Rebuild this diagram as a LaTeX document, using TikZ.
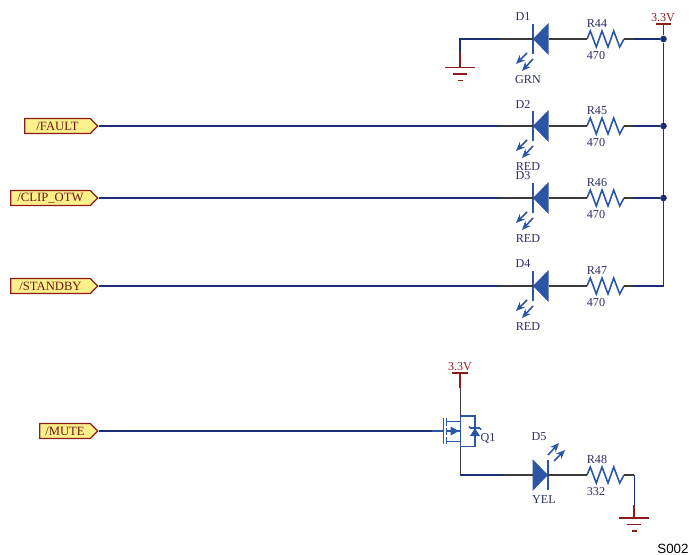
\documentclass[tikz,border=0pt]{standalone}
\usepackage{fontspec}
\setmainfont{Liberation Serif}
\newfontfamily\labelsans{Liberation Sans}
\usetikzlibrary{shapes.symbols}
\definecolor{netblue}{HTML}{1C2F7A}
\definecolor{stubgray}{HTML}{3A3A3A}
\definecolor{partblue}{HTML}{2B55A5}
\definecolor{pwrred}{HTML}{8A1C1C}
\definecolor{tagfill}{HTML}{FDF08A}
\definecolor{txtblue}{HTML}{2B2F66}
\tikzset{
    net/.style={draw=netblue,line width=0.9pt},
    stub/.style={draw=stubgray,line width=0.9pt},
    part/.style={draw=partblue,line width=0.9pt},
    pwr/.style={draw=pwrred,line width=0.95pt},
    lbl/.style={inner sep=0pt,text=txtblue,font=\fontsize{6.9}{8}\selectfont},
    pwrlbl/.style={inner sep=0pt,text=pwrred,font=\fontsize{6.9}{8}\selectfont},
    tag/.style={shape=signal,signal to=east,signal pointer angle=90,draw=pwrred,fill=tagfill,line width=0.8pt,
        inner sep=0pt,minimum height=15*0.2mm,text=pwrred!80!black,font=\fontsize{7.2}{8}\selectfont},
    dot/.style={shape=circle,fill=netblue,inner sep=0pt,minimum size=3.8pt},
    pics/led/.style={code={
        \coordinate (-k) at (0,0);
        \coordinate (-a) at (15.5,0);
        \fill[partblue] (0,0) -- (15.5,-16) -- (15.5,16) -- cycle;
        \draw[part] (0,-15) -- (0,15);
        \draw[part,-{Stealth[length=1.8mm,width=1.5mm]}] (-6,14) -- (-17,25);
        \draw[part,-{Stealth[length=1.8mm,width=1.5mm]}] (0,20) -- (-11,32);
    }},
    pics/res/.style={code={
        \coordinate (-a) at (0,0);
        \coordinate (-b) at (37,0);
        \draw[part] (0,0) -- (3.3,-8) -- (9.3,8) -- (15,-8) -- (21,8) -- (26.7,-8) -- (32.7,8) -- (37,0);
    }},
    pics/earth/.style={code={
        \draw[pwr] (-15,0) -- (15,0);
        \draw[pwr] (-7,6.5) -- (7,6.5);
        \draw[pwr] (-2.5,13) -- (2.5,13);
    }}
}
\usetikzlibrary{arrows.meta}

\begin{document}
\begin{tikzpicture}[x=0.2mm,y=-0.2mm]
    \useasboundingbox (0,0) rectangle (689,555);

    % LED rows
    \foreach \n/\r/\y/\col in {1/44/39/GRN,2/45/126/RED,3/46/198/RED,4/47/286/RED}{
        \pic (d\n) at (533,\y) {led};
        \pic (r\r) at (587,\y) {res};
        \node[lbl] (d\n lbl) at (523,\y-22) {D\n};
        \node[lbl] (d\n col) at (528,\y+41) {\col};
        \node[lbl] (r\r lbl) at (597,\y-15) {R\r};
        \node[lbl] (r\r val) at (596,\y+17) {470};
        \coordinate (w\n) at (500,\y);
        \coordinate (b\n) at (634,\y);
        \draw[stub] (w\n) -- (d\n-k);
        \draw[stub] (d\n-a) -- (r\r-a);
        \draw[stub] (r\r-b) -- (b\n);
    }

    % signal tags
    \node[tag,minimum width=73*0.2mm] (fault) at (57.5,126) {/FAULT};
    \node[tag,minimum width=87*0.2mm] (clip) at (50.5,198) {/CLIP\_OTW};
    \node[tag,minimum width=87*0.2mm] (standby) at (50.5,286) {/STANDBY};
    \node[tag,minimum width=58*0.2mm] (mute) at (65,431) {/MUTE};
    \draw[net] (fault.east) -- (fault.east -| w2);
    \draw[stub] (fault.east -| w2) -- (w2);
    \draw[net] (clip.east) -- (clip.east -| w3);
    \draw[net] (standby.east) -- (standby.east -| w4);

    % right hand bus
    \node[pwrlbl] (vtop) at (663,18) {3.3V};
    \coordinate (vtopbar) at (663.5,24);
    \coordinate (vtopl) at (656,24);
    \coordinate (vtopr) at (671,24);
    \node[dot] (j1) at (663.5,39) {};
    \node[dot] (j2) at (663.5,126) {};
    \node[dot] (j3) at (663.5,198) {};
    \coordinate (j4) at (663.5,286);
    \draw[pwr] (vtopl) -- (vtopr);
    \draw[pwr] (vtopbar) -- (j1);
    \draw[net] (b1) -- (j1);
    \draw[net] (b2) -- (j2);
    \draw[net] (b3) -- (j3);
    \draw[net] (b4) -- (j4) -- (j1);

    % ground of D1
    \pic (gnd1) at (460,67.5) {earth};
    \coordinate (g1c) at (460,39);
    \coordinate (g1m) at (460,53);
    \draw[net] (w1) -- (g1c) -- (g1m);
    \draw[pwr] (g1m) -- (460,67.5);

    % Q1
    \coordinate (qg) at (443.3,431);
    \coordinate (qgs) at (432,431);
    \coordinate (qd) at (460.3,416);
    \coordinate (qs) at (460.3,446.7);
    \coordinate (qdr) at (475,416);
    \coordinate (qsr) at (475,446.7);
    \draw[net] (mute.east) -- (mute.east -| qgs);
    \draw[part] (qgs) -- (qg);
    \draw[part] (443.3,418) -- (443.3,444);
    \draw[part,line width=1pt] (446.5,418) -- (446.5,426);
    \draw[part,line width=1pt] (446.5,427.5) -- (446.5,435);
    \draw[part,line width=1pt] (446.5,437) -- (446.5,444);
    \draw[part] (446.5,421.7) -- (460.3,421.7);
    \draw[part] (446.5,441.7) -- (460.3,441.7);
    \draw[part] (446.5,431) -- (460.3,431);
    \fill[partblue] (459,431) -- (450.5,426.5) -- (450.5,435.5) -- cycle;
    \draw[part] (qd) -- (qdr) -- (qsr) -- (qs) -- cycle;
    \fill[partblue] (475,428) -- (470,436) -- (480,436) -- cycle;
    \draw[part] (469,426.5) -- (470.5,428) -- (479.5,428) -- (481,429.5);
    \node[lbl] (q1lbl) at (488,438) {Q1};

    % 3.3V of Q1
    \node[pwrlbl] (vq) at (460,367) {3.3V};
    \coordinate (vqbar) at (460.3,373);
    \coordinate (vql) at (452,373);
    \coordinate (vqr) at (468,373);
    \coordinate (vqm) at (460.3,388);
    \draw[pwr] (vql) -- (vqr);
    \draw[pwr] (vqbar) -- (vqm);
    \draw[stub] (vqm) -- (qd);

    % D5 row
    \pic[rotate=180] (d5) at (548,475) {led};
    \pic (r48) at (587,475) {res};
    \coordinate (qc) at (460.3,475);
    \coordinate (w5) at (503,475);
    \coordinate (b5) at (634.3,475);
    \coordinate (g2m) at (634.3,505);
    \draw[stub] (qs) -- (qc);
    \draw[net] (qc) -- (w5);
    \draw[stub] (w5) -- (d5-a);
    \draw[stub] (d5-k) -- (r48-a);
    \draw[stub] (r48-b) -- (b5);
    \draw[net] (b5) -- (g2m);
    \pic (gnd2) at (634.3,518) {earth};
    \draw[pwr] (g2m) -- (634.3,518);
    \node[lbl] (d5lbl) at (539,437) {D5};
    \node[lbl] (d5col) at (544,500) {YEL};
    \node[lbl] (r48lbl) at (597,460) {R48};
    \node[lbl] (r48val) at (596,492) {332};

    \node[inner sep=0pt,font=\labelsans\fontsize{7.6}{9}\selectfont] (fig) at (673,549) {S002};
\end{tikzpicture}
\end{document}
